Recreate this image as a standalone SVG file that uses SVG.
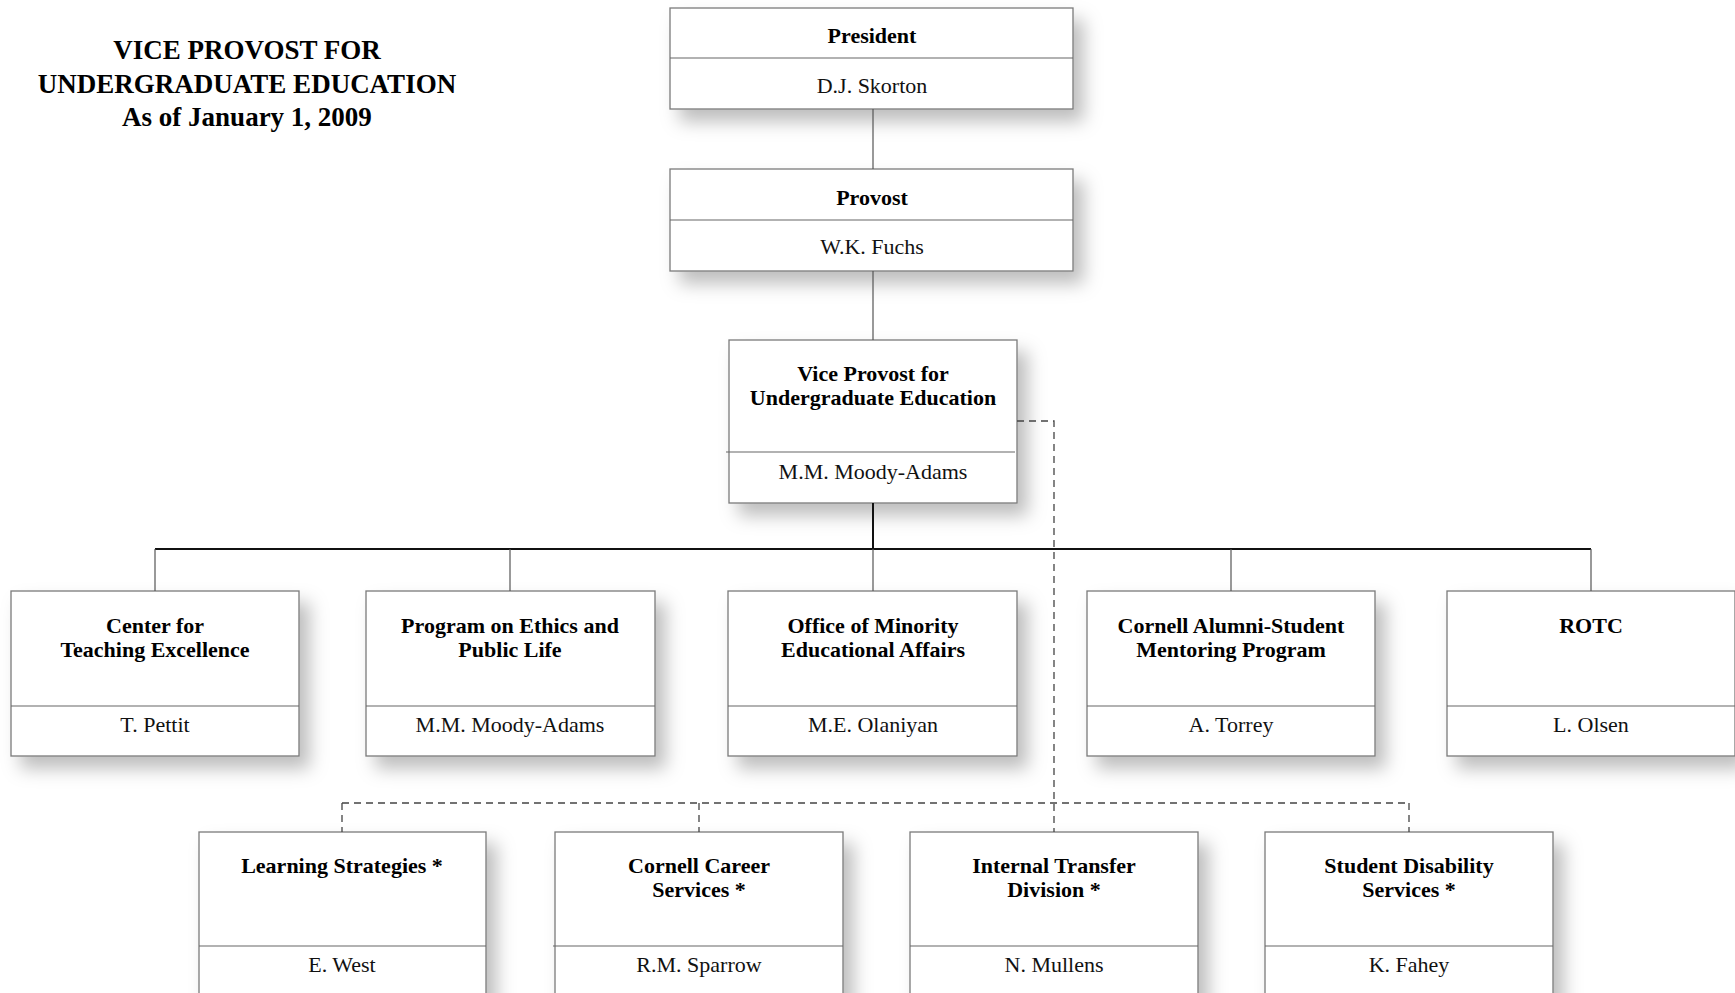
<svg xmlns="http://www.w3.org/2000/svg" width="1735" height="993" viewBox="0 0 1735 993">
<defs>
<filter id="sh" x="-20%" y="-20%" width="150%" height="170%">
<feDropShadow dx="10" dy="12" stdDeviation="9" flood-color="#000" flood-opacity="0.26"/>
</filter>
<style>
.box{fill:#fff;stroke:#7a7a7a;stroke-width:1.3}
.div{stroke:#666;stroke-width:1.2}
.t{font-family:"Liberation Serif","Times New Roman",serif;font-weight:bold;font-size:22px;fill:#000;text-anchor:middle}
.n{font-family:"Liberation Serif","Times New Roman",serif;font-size:22px;fill:#111;text-anchor:middle}
.h{font-family:"Liberation Serif","Times New Roman",serif;font-weight:bold;font-size:27px;fill:#000;text-anchor:middle}
.c{stroke:#555;stroke-width:1.2;fill:none}
.cb{stroke:#111;stroke-width:2;fill:none}
.d{stroke:#444;stroke-width:1.3;fill:none;stroke-dasharray:7 5}
</style>
</defs>
<rect width="1735" height="993" fill="#fff"/>
<g id="title">
<text class="h" x="247" y="59">VICE PROVOST FOR</text>
<text class="h" x="247" y="93">UNDERGRADUATE EDUCATION</text>
<text class="h" x="247" y="126">As of January 1, 2009</text>
</g>
<g id="president">
<rect class="box" x="670" y="8" width="403" height="101" filter="url(#sh)"/>
<line class="div" x1="670" y1="58" x2="1073" y2="58"/>
<text class="t" x="872" y="43">President</text>
<text class="n" x="872" y="93">D.J. Skorton</text>
</g>
<g id="provost">
<rect class="box" x="670" y="169" width="403" height="102" filter="url(#sh)"/>
<line class="div" x1="670" y1="220" x2="1073" y2="220"/>
<text class="t" x="872" y="205">Provost</text>
<text class="n" x="872" y="254">W.K. Fuchs</text>
</g>
<g id="vice-provost">
<rect class="box" x="729" y="340" width="288" height="163" filter="url(#sh)"/>
<line class="div" x1="726" y1="452" x2="1015" y2="452"/>
<text class="t" x="873" y="381">Vice Provost for</text>
<text class="t" x="873" y="405">Undergraduate Education</text>
<text class="n" x="873" y="479">M.M. Moody-Adams</text>
</g>
<g id="cte">
<rect class="box" x="11" y="591" width="288" height="165" filter="url(#sh)"/>
<line class="div" x1="11" y1="706" x2="299" y2="706"/>
<text class="t" x="155" y="633">Center for</text>
<text class="t" x="155" y="657">Teaching Excellence</text>
<text class="n" x="155" y="732">T. Pettit</text>
</g>
<g id="ethics">
<rect class="box" x="366" y="591" width="289" height="165" filter="url(#sh)"/>
<line class="div" x1="366" y1="706" x2="655" y2="706"/>
<text class="t" x="510" y="633">Program on Ethics and</text>
<text class="t" x="510" y="657">Public Life</text>
<text class="n" x="510" y="732">M.M. Moody-Adams</text>
</g>
<g id="omea">
<rect class="box" x="728" y="591" width="289" height="165" filter="url(#sh)"/>
<line class="div" x1="728" y1="706" x2="1017" y2="706"/>
<text class="t" x="873" y="633">Office of Minority</text>
<text class="t" x="873" y="657">Educational Affairs</text>
<text class="n" x="873" y="732">M.E. Olaniyan</text>
</g>
<g id="casmp">
<rect class="box" x="1087" y="591" width="288" height="165" filter="url(#sh)"/>
<line class="div" x1="1087" y1="706" x2="1375" y2="706"/>
<text class="t" x="1231" y="633">Cornell Alumni-Student</text>
<text class="t" x="1231" y="657">Mentoring Program</text>
<text class="n" x="1231" y="732">A. Torrey</text>
</g>
<g id="rotc">
<rect class="box" x="1447" y="591" width="288" height="165" filter="url(#sh)"/>
<line class="div" x1="1447" y1="706" x2="1735" y2="706"/>
<text class="t" x="1591" y="633">ROTC</text>
<text class="n" x="1591" y="732">L. Olsen</text>
</g>
<g id="learning">
<rect class="box" x="199" y="832" width="287" height="180" filter="url(#sh)"/>
<line class="div" x1="199" y1="946" x2="486" y2="946"/>
<text class="t" x="342" y="873">Learning Strategies *</text>
<text class="n" x="342" y="972">E. West</text>
</g>
<g id="career">
<rect class="box" x="555" y="832" width="288" height="180" filter="url(#sh)"/>
<line class="div" x1="553" y1="946" x2="843" y2="946"/>
<text class="t" x="699" y="873">Cornell Career</text>
<text class="t" x="699" y="897">Services *</text>
<text class="n" x="699" y="972">R.M. Sparrow</text>
</g>
<g id="transfer">
<rect class="box" x="910" y="832" width="288" height="180" filter="url(#sh)"/>
<line class="div" x1="910" y1="946" x2="1198" y2="946"/>
<text class="t" x="1054" y="873">Internal Transfer</text>
<text class="t" x="1054" y="897">Division *</text>
<text class="n" x="1054" y="972">N. Mullens</text>
</g>
<g id="disability">
<rect class="box" x="1265" y="832" width="288" height="180" filter="url(#sh)"/>
<line class="div" x1="1265" y1="946" x2="1553" y2="946"/>
<text class="t" x="1409" y="873">Student Disability</text>
<text class="t" x="1409" y="897">Services *</text>
<text class="n" x="1409" y="972">K. Fahey</text>
</g>
<g id="connectors">
<line class="c" x1="873" y1="109" x2="873" y2="169"/>
<line class="c" x1="873" y1="271" x2="873" y2="340"/>
<line class="cb" x1="873" y1="503" x2="873" y2="549"/>
<line class="cb" x1="155" y1="549" x2="1591" y2="549"/>
<line class="c" x1="155" y1="549" x2="155" y2="591"/>
<line class="c" x1="510" y1="549" x2="510" y2="591"/>
<line class="c" x1="873" y1="549" x2="873" y2="591"/>
<line class="c" x1="1231" y1="549" x2="1231" y2="591"/>
<line class="c" x1="1591" y1="549" x2="1591" y2="591"/>
<path class="d" d="M1017 421 H1054 V832"/>
<line class="d" x1="342" y1="803" x2="1409" y2="803"/>
<line class="d" x1="342" y1="803" x2="342" y2="832"/>
<line class="d" x1="699" y1="803" x2="699" y2="832"/>
<line class="d" x1="1409" y1="803" x2="1409" y2="832"/>
</g>
</svg>
